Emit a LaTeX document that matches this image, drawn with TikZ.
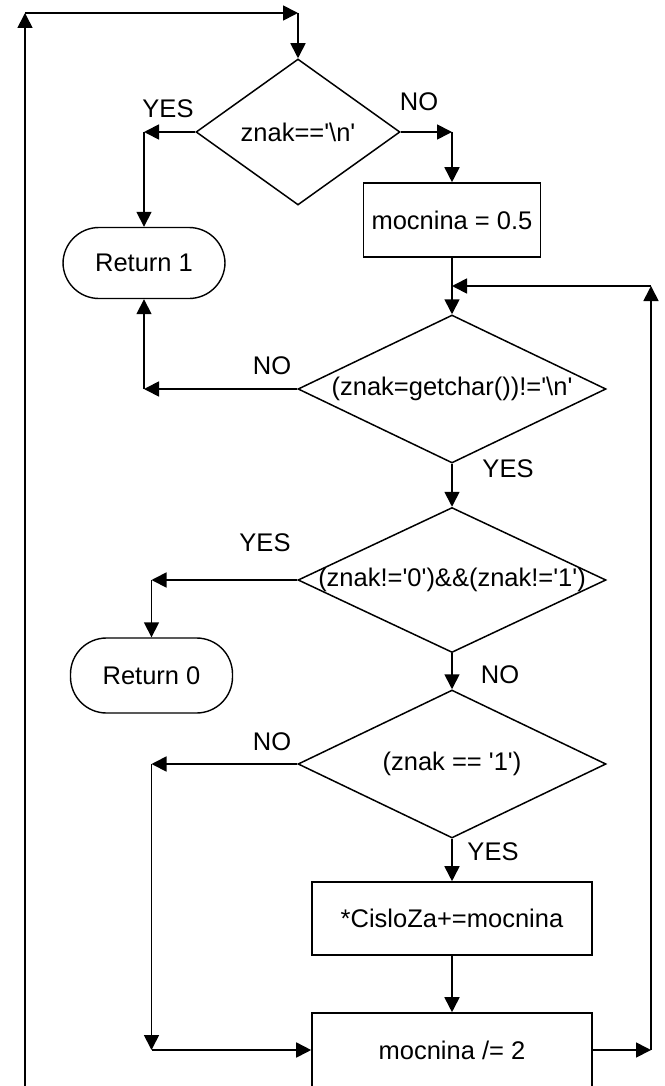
\documentclass[tikz,border=0pt]{standalone}
\usepackage{fontspec}
\setmainfont{Liberation Sans}
\usetikzlibrary{arrows.meta,shapes.geometric}
\newcommand\sq{\textquotesingle}

\begin{document}
\begin{tikzpicture}[x=1pt,y=-1pt,
  font=\fontsize{25.5}{30}\selectfont,
  flow/.style={line width=1.7pt, -{Triangle[length=15pt,width=15pt]}},
  dec/.style={draw, line width=1.5pt, diamond, inner sep=0pt,
              minimum width=308pt, minimum height=148pt},
  proc/.style={draw, line width=1.6pt, rectangle, inner sep=0pt,
               minimum width=280pt, minimum height=73pt},
  term/.style={draw, line width=1.4pt, rectangle, rounded corners=36pt,
               inner sep=0pt, minimum width=162pt, minimum height=73pt},
  txt/.style={inner sep=0pt}]

\useasboundingbox (0,0) rectangle (664,1086);
\clip (0,0) rectangle (664,1086);

% decisions
\node[dec, minimum width=204pt, minimum height=146pt,
      label={[txt]center:znak==\sq\textbackslash n\sq}] (d1) at (298,132) {};
\node[dec, label={[txt]center:(znak=getchar())!=\sq\textbackslash n\sq}] (d2) at (452,389) {};
\node[dec, minimum height=145pt,
      label={[txt]center:(znak!=\sq0\sq)\&\&(znak!=\sq1\sq)}] (d3) at (452,580) {};
\node[dec, label={[txt]center:(znak == \sq1\sq)}] (d4) at (452,764) {};

% processes
\node[proc, minimum width=177pt, minimum height=74pt] (m05) at (452,220) {mocnina = 0.5};
\node[proc] (cz) at (452,918.5) {*CisloZa+=mocnina};
\node[proc, minimum height=74pt] (md) at (452,1050) {mocnina /= 2};

% terminals
\node[term, minimum height=71pt] (r1) at (144,263) {Return 1};
\node[term, minimum height=75pt] (r0) at (151.5,675.5) {Return 0};

% branch labels
\node[txt] (y1) at (168,109) {YES};
\node[txt] (n1) at (419,102) {NO};
\node[txt] (n2) at (272,366) {NO};
\node[txt] (y2) at (508,469) {YES};
\node[txt] (y3) at (265,543) {YES};
\node[txt] (n3) at (500,675) {NO};
\node[txt] (n4) at (272,742) {NO};
\node[txt] (y4) at (493,852) {YES};

% bend points
\coordinate (bl) at (25,1100);
\coordinate (tl) at (25,13);
\coordinate (tr) at (298,13);
\coordinate (c1) at (144,132);
\coordinate (c2) at (452,132);
\coordinate (j)  at (452,286);
\coordinate (rt) at (651,286);
\coordinate (rb) at (651,1050);
\coordinate (c5) at (144,389);
\coordinate (c6) at (151.5,580);
\coordinate (c7) at (151.5,764);
\coordinate (c8) at (151.5,1050);

% outer loop back to the first test
\draw[flow] (bl) -- (tl);
\draw[flow] (tl) -- (tr);
\draw[flow] (tr) -- (d1.north);

% first test
\draw[flow] (d1.west) -- (c1);
\draw[flow] (c1) -- (r1.north);
\draw[flow] (d1.east) -- (c2);
\draw[flow] (c2) -- (m05.north);
\draw[flow] (m05.south) -- (d2.north);

% reading loop
\draw[flow] (d2.west) -- (c5);
\draw[flow] (c5) -- (r1.south);
\draw[flow] (d2.south) -- (d3.north);
\draw[flow] (d3.west) -- (c6);
\draw[flow] (c6) -- (r0.north);
\draw[flow] (d3.south) -- (d4.north);
\draw[flow] (d4.west) -- (c7);
\draw[flow] (c7) -- (c8);
\draw[flow] (c8) -- (md.west);
\draw[flow] (d4.south) -- (cz.north);
\draw[flow] (cz.south) -- (md.north);
\draw[flow] (md.east) -- (rb);
\draw[flow] (rb) -- (rt);
\draw[flow] (rt) -- (j);
\end{tikzpicture}
\end{document}
